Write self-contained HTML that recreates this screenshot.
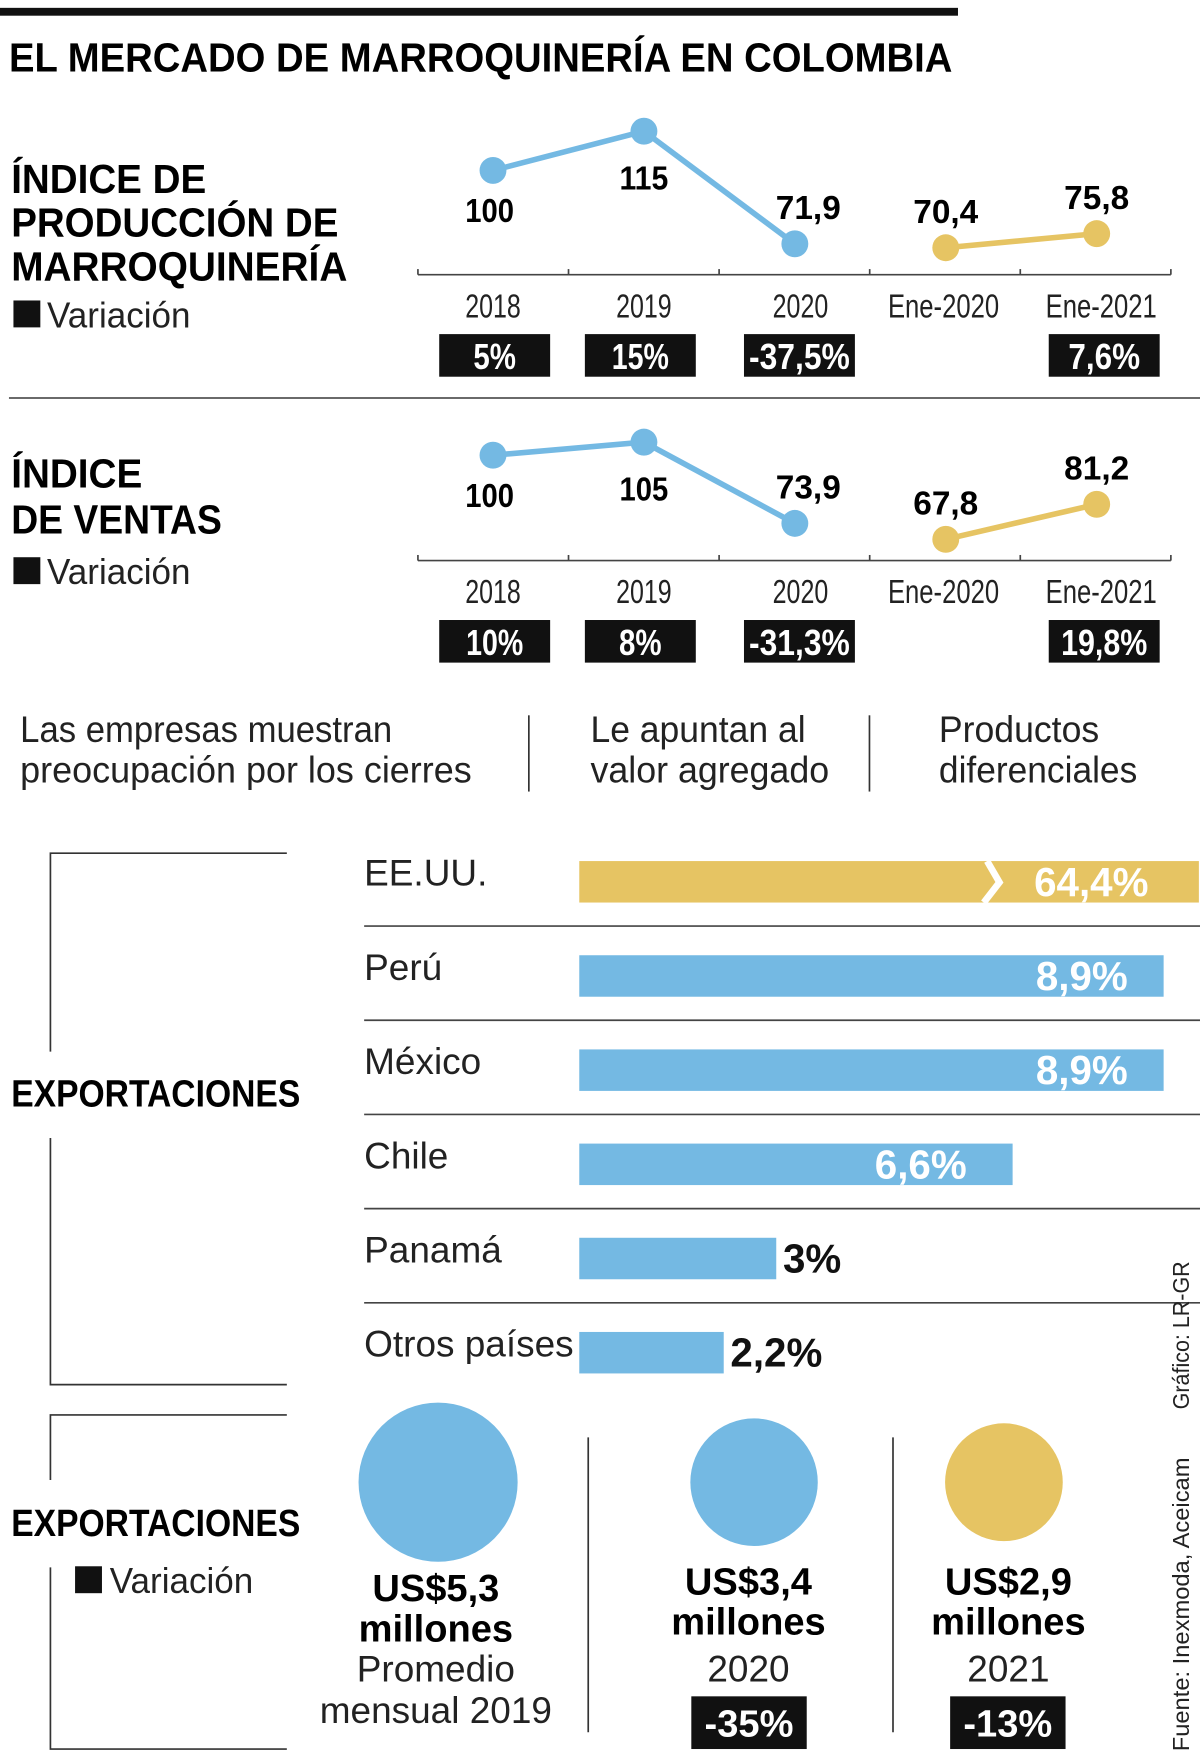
<!DOCTYPE html>
<html><head><meta charset="utf-8">
<style>
html,body{margin:0;padding:0;background:#fff;}
svg{display:block;}
text{font-family:"Liberation Sans",sans-serif;}
.cb{font-weight:bold;}
.lt{fill:#222;}
</style></head>
<body>
<svg id="chart" width="1200" height="1758" viewBox="0 0 1071 1568" preserveAspectRatio="none" xmlns="http://www.w3.org/2000/svg">
<rect x="0" y="7" width="855" height="7" fill="#111"/>
<text x="8" y="64" class="cb" font-size="36" textLength="842" lengthAdjust="spacingAndGlyphs">EL MERCADO DE MARROQUINERÍA EN COLOMBIA</text>

<g class="cb" font-size="36">
<text x="10" y="172" textLength="174" lengthAdjust="spacingAndGlyphs">ÍNDICE DE</text>
<text x="10" y="211" textLength="292" lengthAdjust="spacingAndGlyphs">PRODUCCIÓN DE</text>
<text x="10" y="250" textLength="300" lengthAdjust="spacingAndGlyphs">MARROQUINERÍA</text>
</g>
<rect x="12" y="268" width="24" height="24" fill="#111"/>
<text x="42" y="292" font-size="32" class="lt" textLength="128" lengthAdjust="spacingAndGlyphs">Variación</text>

<g class="cb" font-size="36">
<text x="10" y="435" textLength="117" lengthAdjust="spacingAndGlyphs">ÍNDICE</text>
<text x="10" y="476" textLength="188" lengthAdjust="spacingAndGlyphs">DE VENTAS</text>
</g>
<rect x="12" y="497" width="24" height="24" fill="#111"/>
<text x="42" y="521" font-size="32" class="lt" textLength="128" lengthAdjust="spacingAndGlyphs">Variación</text>

<line x1="8" y1="355" x2="1071" y2="355" stroke="#555" stroke-width="1.5"/>

<g id="lines"></g>

<g font-size="33" class="lt">
<text x="18" y="662" textLength="332" lengthAdjust="spacingAndGlyphs">Las empresas muestran</text>
<text x="18" y="698" textLength="403" lengthAdjust="spacingAndGlyphs">preocupación por los cierres</text>
<line x1="472" y1="638" x2="472" y2="706" stroke="#333" stroke-width="1.5"/>
<text x="527" y="662" textLength="192" lengthAdjust="spacingAndGlyphs">Le apuntan al</text>
<text x="527" y="698" textLength="213" lengthAdjust="spacingAndGlyphs">valor agregado</text>
<line x1="776" y1="638" x2="776" y2="706" stroke="#333" stroke-width="1.5"/>
<text x="838" y="662" textLength="143" lengthAdjust="spacingAndGlyphs">Productos</text>
<text x="838" y="698" textLength="177" lengthAdjust="spacingAndGlyphs">diferenciales</text>
</g>

<g stroke="#333" stroke-width="1.5" fill="none">
<polyline points="256,761 45,761 45,938"/>
<polyline points="45,1015 45,1235 256,1235"/>
</g>
<text x="10" y="987" class="cb" font-size="34" textLength="258" lengthAdjust="spacingAndGlyphs">EXPORTACIONES</text>
<g id="bars"></g>

<g stroke="#333" stroke-width="1.5" fill="none">
<polyline points="256,1262 45,1262 45,1320"/>
<polyline points="45,1398 45,1560 256,1560"/>
</g>
<text x="10" y="1370" class="cb" font-size="34" textLength="258" lengthAdjust="spacingAndGlyphs">EXPORTACIONES</text>
<rect x="67" y="1397" width="24" height="24" fill="#111"/>
<text x="98" y="1421" font-size="32" class="lt" textLength="128" lengthAdjust="spacingAndGlyphs">Variación</text>
<line x1="525" y1="1282" x2="525" y2="1545" stroke="#333" stroke-width="1.5"/>
<line x1="797" y1="1282" x2="797" y2="1545" stroke="#333" stroke-width="1.5"/>
<g id="circles"></g>

<text transform="translate(1061,1257) rotate(-90)" font-size="21" class="lt" textLength="132" lengthAdjust="spacingAndGlyphs">Gráfico: LR-GR</text>
<text transform="translate(1061,1562) rotate(-90)" font-size="21" class="lt" textLength="262" lengthAdjust="spacingAndGlyphs">Fuente: Inexmoda, Aceicam</text>
</svg>
<script>
const NS="http://www.w3.org/2000/svg";
const BLUE="#74b9e3", GOLD="#e6c463";
const periods=["2018","2019","2020","Ene-2020","Ene-2021"];
const prodValues=[100,115,71.9,70.4,75.8];
const prodLabels=["100","115","71,9","70,4","75,8"];
const prodVar=["5%","15%","-37,5%","","7,6%"];
const salesValues=[100,105,73.9,67.8,81.2];
const salesLabels=["100","105","73,9","67,8","81,2"];
const salesVar=["10%","8%","-31,3%","","19,8%"];
const countries=["EE.UU.","Perú","México","Chile","Panamá","Otros países"];
const shares=[64.4,8.9,8.9,6.6,3,2.2];
const shareLabels=["64,4%","8,9%","8,9%","6,6%","3%","2,2%"];
const avgValues=[5.3,3.4,2.9];
const avgAmounts=["US$5,3","US$3,4","US$2,9"];
const avgSub=[["Promedio","mensual 2019"],["2020"],["2021"]];
const avgVar=["","-35%","-13%"];

function mk(tag,attrs,parent,txt){const e=document.createElementNS(NS,tag);for(const k in attrs)e.setAttribute(k,attrs[k]);if(txt!==undefined)e.textContent=txt;parent.appendChild(e);return e;}

const xPt=i=>440+i*134.7;
const yScale=(v,base)=>base-(v-100)*2.33;
const linesG=document.getElementById('lines');
function lineChart(vals,labels,vars,baseY,axisY,name){
  const g=mk('g',{},linesG);
  
  
  const ax=mk('line',{x1:373,y1:axisY,x2:1045,y2:axisY,stroke:'#444','stroke-width':1.5},g);
  
  
  for(let k=0;k<=5;k++){const tx=373+k*134.4;const t=mk('line',{x1:tx,y1:axisY,x2:tx,y2:axisY-5,stroke:'#444','stroke-width':1.5},g);
    
    }
  const segs=[[0,1,BLUE],[1,2,BLUE],[3,4,GOLD]];
  segs.forEach(s=>{const l=mk('line',{x1:xPt(s[0]),y1:yScale(vals[s[0]],baseY),x2:xPt(s[1]),y2:yScale(vals[s[1]],baseY),stroke:s[2],'stroke-width':5},g);
    
    });
  vals.forEach((v,i)=>{
    const x=xPt(i),y=yScale(v,baseY);
    const c=mk('circle',{cx:x,cy:y,r:12,fill:i<3?BLUE:GOLD},g);
    
    
    const below=i<2;
    const t=mk('text',{x:x+(i==2?12:i==0?-3:0),y:below?y+(i==1?52:46):y-22,'text-anchor':'middle','font-size':30,'font-weight':'bold',textLength:labels[i].length*14.5,lengthAdjust:'spacingAndGlyphs'},g,labels[i]);
    
    
    const yl=mk('text',{x:x+(i==2?5:i==3?-2:i==4?4:0),y:axisY+38,'text-anchor':'middle','font-size':30,fill:'#222',textLength:periods[i].length*12.4,lengthAdjust:'spacingAndGlyphs'},g,periods[i]);
    
    
    if(vars[i]){
      const bx=[392,522,664,0,936][i];
      const r=mk('rect',{x:bx,y:axisY+53,width:99,height:38,fill:'#111'},g);
      
      
      const vt=mk('text',{x:bx+49.5,y:axisY+84,'text-anchor':'middle','font-size':32,'font-weight':'bold',fill:'#fff',textLength:vars[i].length*13+12,lengthAdjust:'spacingAndGlyphs'},g,vars[i]);
      
      
    }
  });
}
lineChart(prodValues,prodLabels,prodVar,152,245,'production-index-chart');
lineChart(salesValues,salesLabels,salesVar,406,500,'sales-index-chart');

const barsG=document.getElementById('bars');
const xBar=v=>Math.min(v,9.43)*58.6;
countries.forEach((c,i)=>{
  const rowTop=768+i*84;
  const lab=mk('text',{x:325,y:rowTop+22,'font-size':33,fill:'#222'},barsG,c);
  
  
  if(i>0){const sl=mk('line',{x1:325,y1:rowTop-26,x2:1071,y2:rowTop-26,stroke:'#444','stroke-width':1.5},barsG);
    
    }
  const w=i==0?553:xBar(shares[i]);
  const b=mk('rect',{x:517,y:rowTop,width:w,height:37,fill:i==0?GOLD:BLUE},barsG);
  
  
  if(i==0){const br=mk('polyline',{points:`${881},${rowTop} ${892},${rowTop+19} ${878},${rowTop+37}`,fill:'none',stroke:'#fff','stroke-width':6},barsG);
    
    }
  const inside=shares[i]>5;
  const end=517+w;
  const inset=i==0?45:i==3?41:32;
  const t=mk('text',{x:inside?end-inset:end+6,y:rowTop+31,'text-anchor':inside?'end':'start','font-size':36,'font-weight':'bold',fill:inside?'#fff':'#111'},barsG,shareLabels[i]);
  
  
});

const circG=document.getElementById('circles');
const cx=[391,673,896];
avgValues.forEach((v,i)=>{
  const r=30.84*Math.sqrt(v);
  const c=mk('circle',{cx:cx[i],cy:1322,r:r,fill:i<2?BLUE:GOLD},circG);
  
  
  const tx=[389,668,900][i];
  const y0=i==0?1428:1422;
  const a=mk('text',{x:tx,y:y0,'text-anchor':'middle','font-size':34,'font-weight':'bold'},circG,avgAmounts[i]);
  
  
  const m=mk('text',{x:tx,y:y0+36,'text-anchor':'middle','font-size':34,'font-weight':'bold'},circG,'millones');
  
  
  avgSub[i].forEach((s,k)=>{const st=mk('text',{x:tx,y:1500+k*37,'text-anchor':'middle','font-size':33,fill:'#222'},circG,s);
    
    });
  if(avgVar[i]){
    const bx=[0,617,848][i];
    const rb=mk('rect',{x:bx,y:1513,width:103,height:47,fill:'#111'},circG);
    
    
    const vt=mk('text',{x:bx+51.5,y:1549,'text-anchor':'middle','font-size':34,'font-weight':'bold',fill:'#fff'},circG,avgVar[i]);
    
    
  }
});
</script>
</body></html>
